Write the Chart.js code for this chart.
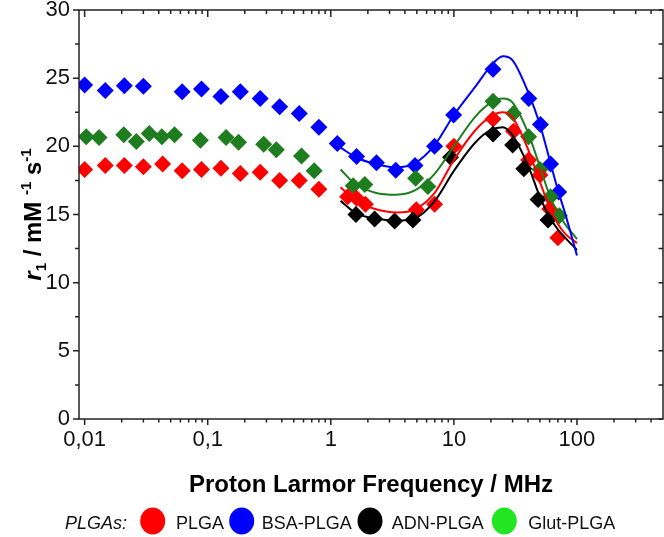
<!DOCTYPE html>
<html>
<head>
<meta charset="utf-8">
<script src="https://cdn.jsdelivr.net/npm/chart.js@4.4.1/dist/chart.umd.min.js"></script>
<style>
  html, body { margin: 0; padding: 0; background: #fff; }
  #wrap { width: 664px; height: 537px; position: relative; }
</style>
</head>
<body>
<div id="wrap"><canvas id="chart"></canvas></div>
<script>
const xTicks = [0.01, 0.1, 1, 10, 100];
const yTicks = [0, 5, 10, 15, 20, 25, 30];

// measured points (MHz, mM-1 s-1)
const plgaFreq = [0.010, 0.0147, 0.021, 0.030, 0.043, 0.062, 0.089, 0.128, 0.184, 0.267, 0.384, 0.554, 0.80,
                  1.37, 1.62, 1.91, 4.95, 6.97, 10.0, 20.8, 30.5, 40.5, 50, 60, 70];
const plgaR1 = [18.3, 18.6, 18.6, 18.5, 18.7, 18.2, 18.3, 18.4, 18.0, 18.1, 17.5, 17.5, 16.85,
                16.3, 16.2, 15.75, 15.35, 15.75, 20.0, 22.0, 21.1, 19.0, 17.9, 15.4, 13.3];

const bsaFreq = [0.010, 0.0147, 0.021, 0.030, 0.062, 0.089, 0.128, 0.184, 0.267, 0.384, 0.554, 0.80, 1.13,
                 1.62, 2.35, 3.37, 4.83, 6.97, 9.95, 20.8, 40.6, 50.5, 61, 71];
const bsaR1 = [24.5, 24.1, 24.45, 24.4, 24.0, 24.2, 23.65, 24.0, 23.5, 22.9, 22.4, 21.4, 20.2,
               19.25, 18.8, 18.25, 18.6, 20.0, 22.3, 25.65, 23.5, 21.6, 18.7, 16.65];

const adnFreq = [1.6, 2.27, 3.3, 4.65, 9.4, 20.8, 30, 37, 48.3, 58.2];
const adnR1 = [15.0, 14.67, 14.52, 14.6, 19.2, 20.9, 20.1, 18.35, 16.1, 14.6];

const glutFreq = [0.0103, 0.0131, 0.0208, 0.0263, 0.0335, 0.0424, 0.0537, 0.0872, 0.141, 0.178, 0.285, 0.361, 0.578, 0.733,
                  1.52, 1.89, 4.89, 6.15, 20.8, 30.5, 40.5, 50, 61, 72];
const glutR1 = [20.7, 20.65, 20.85, 20.35, 20.95, 20.7, 20.85, 20.45, 20.65, 20.3, 20.15, 19.75, 19.3, 18.2,
                17.1, 17.2, 17.65, 17.05, 23.3, 22.4, 20.7, 18.3, 16.3, 14.9];

// fitted curves
const fitFreq = [1.2, 1.6, 2.3, 3.4, 4.9, 7, 10, 15, 20, 25, 30, 40, 50, 60, 70, 80, 100];
const plgaFit = [17.0, 16.0, 15.4, 15.15, 15.4, 16.6, 19.0, 21.2, 22.2, 22.5, 22.1, 19.8, 17.4, 15.5, 14.3, 13.6, 12.9];
const bsaFit  = [19.9, 19.2, 18.7, 18.45, 18.8, 20.1, 22.3, 24.4, 25.9, 26.6, 26.3, 24.0, 21.6, 19.0, 16.8, 15.1, 12.0];
const adnFit  = [16.0, 15.1, 14.7, 14.55, 14.75, 16.0, 18.2, 20.3, 21.2, 21.4, 20.8, 18.6, 16.3, 14.8, 13.9, 13.3, 12.4];
const glutFit = [18.3, 17.2, 16.6, 16.45, 16.8, 18.0, 20.0, 22.2, 23.2, 23.5, 23.2, 21.0, 18.5, 16.4, 15.1, 14.3, 13.2];

const names = ['PLGA', 'BSA-PLGA', 'ADN-PLGA', 'Glut-PLGA'];
const colors = ['#ff0000', '#0000ff', '#000000', '#1e7d1e'];
const legendColors = ['#ff0000', '#0000ff', '#000000', '#22e622'];

const FONT = "'Liberation Sans', Arial, sans-serif";

function pts(xs, ys) { return xs.map((x, i) => ({ x: x, y: ys[i] })); }

function curve(xs, ys, color) {
  return {
    data: pts(xs, ys), showLine: true, borderColor: color, borderWidth: 2,
    pointRadius: 0, cubicInterpolationMode: 'monotone', fill: false
  };
}
function marks(xs, ys, color) {
  return {
    data: pts(xs, ys), showLine: false, pointStyle: 'rectRot', pointRadius: 8.5,
    pointBackgroundColor: color, pointBorderWidth: 0, backgroundColor: color
  };
}

const frame = {
  id: 'frame',
  afterDraw(chart) {
    const { ctx, chartArea: a, scales: { x, y } } = chart;
    ctx.save();
    ctx.strokeStyle = '#222';
    ctx.lineWidth = 1.5;
    ctx.strokeRect(a.left, a.top, a.right - a.left, a.bottom - a.top);

    ctx.beginPath();
    for (let e = -3; e <= 2; e++) {
      for (let m = 1; m <= 9; m++) {
        const v = m * Math.pow(10, e);
        if (v < 0.0095 || v > 499) continue;
        const px = x.getPixelForValue(v);
        const major = m === 1;
        ctx.moveTo(px, a.bottom); ctx.lineTo(px, a.bottom + (major ? 6 : 3.5));
        ctx.moveTo(px, a.top); ctx.lineTo(px, a.top + (major ? 7 : 4));
      }
    }
    for (let v = 0; v <= 30; v += 2.5) {
      const py = y.getPixelForValue(v);
      const major = v % 5 === 0;
      ctx.moveTo(a.left, py); ctx.lineTo(a.left - (major ? 6 : 4), py);
      ctx.moveTo(a.right, py); ctx.lineTo(a.right - 4.5, py);
    }
    ctx.stroke();

    // y axis title: r1 / mM-1 s-1
    const parts = [
      { t: 'r', f: 'italic bold 24px ' + FONT, dy: 0 },
      { t: '1', f: 'bold 15px ' + FONT, dy: 5 },
      { t: ' / mM ', f: 'bold 24px ' + FONT, dy: 0 },
      { t: '-1', f: 'bold 15px ' + FONT, dy: -10 },
      { t: ' s', f: 'bold 24px ' + FONT, dy: 0 },
      { t: '-1', f: 'bold 15px ' + FONT, dy: -10 }
    ];
    let total = 0;
    parts.forEach(p => { ctx.font = p.f; p.w = ctx.measureText(p.t).width; total += p.w; });
    ctx.translate(41, (a.top + a.bottom) / 2);
    ctx.rotate(-Math.PI / 2);
    ctx.fillStyle = '#000';
    ctx.textBaseline = 'alphabetic';
    ctx.textAlign = 'left';
    let cx = -total / 2;
    parts.forEach(p => { ctx.font = p.f; ctx.fillText(p.t, cx, p.dy); cx += p.w; });
    ctx.restore();

    // x axis title
    ctx.save();
    ctx.fillStyle = '#000';
    ctx.font = 'bold 24px ' + FONT;
    ctx.textAlign = 'center';
    ctx.textBaseline = 'alphabetic';
    ctx.fillText('Proton Larmor Frequency / MHz', (a.left + a.right) / 2, 492);

    // legend row
    ctx.textAlign = 'left';
    ctx.fillStyle = '#111';
    ctx.font = 'italic 18px ' + FONT;
    ctx.fillText('PLGAs:', 65, 529);
    const dotX = [152.7, 241.7, 370, 504.3];
    const textX = [176, 261.7, 391.7, 528.3];
    ctx.font = '18px ' + FONT;
    names.forEach((n, i) => {
      ctx.fillStyle = legendColors[i];
      ctx.beginPath();
      ctx.ellipse(dotX[i], 521, 12.5, 13.5, 0, 0, Math.PI * 2);
      ctx.fill();
      ctx.fillStyle = '#111';
      ctx.fillText(n, textX[i], 529);
    });
    ctx.restore();
  }
};

new Chart(document.getElementById('chart'), {
  type: 'scatter',
  data: {
    datasets: [
      curve(fitFreq, bsaFit, colors[1]),
      curve(fitFreq, glutFit, colors[3]),
      curve(fitFreq, plgaFit, colors[0]),
      curve(fitFreq, adnFit, colors[2]),
      marks(adnFreq, adnR1, colors[2]),
      marks(plgaFreq, plgaR1, colors[0]),
      marks(glutFreq, glutR1, colors[3]),
      marks(bsaFreq, bsaR1, colors[1])
    ]
  },
  options: {
    responsive: true,
    maintainAspectRatio: false,
    animation: false,
    layout: { autoPadding: false, padding: { top: 10, right: 1, left: 0, bottom: 0 } },
    plugins: { legend: { display: false }, tooltip: { enabled: false } },
    scales: {
      x: {
        type: 'logarithmic', min: 0.009, max: 500,
        afterBuildTicks: s => { s.ticks = xTicks.map(v => ({ value: v })); },
        afterFit: s => { s.height = 118; s.paddingLeft = 0; s.paddingRight = 0; },
        grid: { display: false, drawTicks: false },
        border: { display: false },
        ticks: {
          autoSkip: false, maxRotation: 0, padding: 8, color: '#111',
          font: { family: FONT, size: 22 },
          callback: v => String(v).replace('.', ',')
        }
      },
      y: {
        min: 0, max: 30,
        afterBuildTicks: s => { s.ticks = yTicks.map(v => ({ value: v })); },
        afterFit: s => { s.width = 79; s.paddingTop = 0; s.paddingBottom = 0; },
        grid: { display: false, drawTicks: false },
        border: { display: false },
        ticks: { padding: 9, color: '#111', font: { family: FONT, size: 22 } }
      }
    }
  },
  plugins: [frame]
});
</script>
</body>
</html>
